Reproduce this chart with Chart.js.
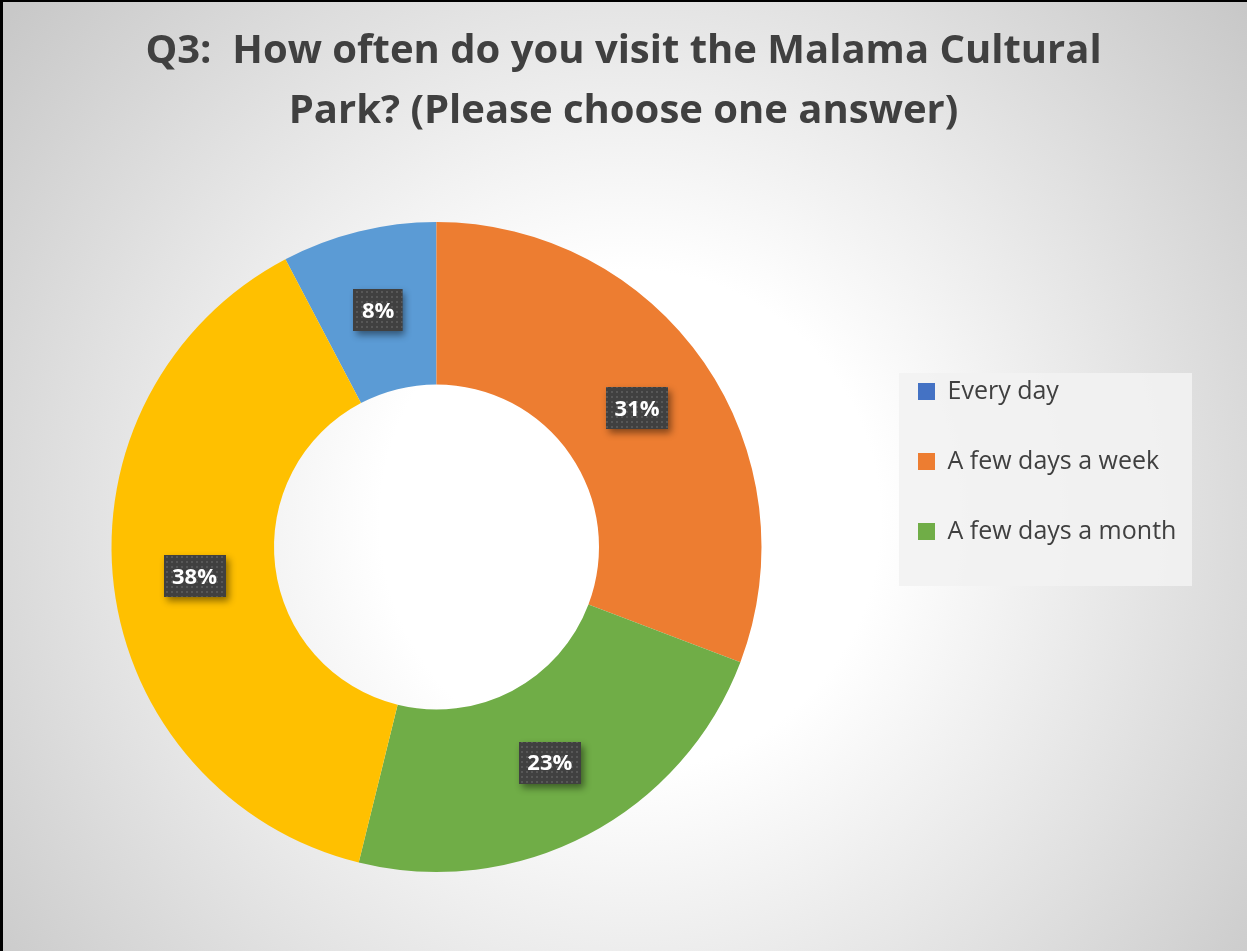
<!DOCTYPE html>
<html>
<head>
<meta charset="utf-8">
<script src="https://cdn.jsdelivr.net/npm/chart.js@4.4.1/dist/chart.umd.min.js"></script>
<style>
  html, body { margin: 0; padding: 0; }
  body { width: 1247px; height: 951px; overflow: hidden; }
  #wrap {
    position: relative;
    width: 1247px;
    height: 951px;
    background: radial-gradient(circle at 630px 520px, #ffffff 0px, #ffffff 250px, #c8c8c8 800px);
    box-shadow: inset 3px 2px 0 #000;
  }
  #myChart { position: absolute; left: 0; top: 0; }
</style>
</head>
<body>
<div id="wrap"><canvas id="myChart" width="1247" height="951"></canvas></div>
<script>
const titleLines = ['Q3:  How often do you visit the Malama Cultural', 'Park? (Please choose one answer)'];
const categories = ['Every day', 'A few days a week', 'A few days a month', 'A few times a year'];
const shares = [7.69, 30.77, 23.08, 38.46];
const sliceColors = ['#5B9BD5', '#ED7D31', '#70AD47', '#FFC000'];
const legendColors = ['#4472C4', '#ED7D31', '#70AD47', '#FFC000'];
const legendCount = 3;

// dotted fill for the label boxes
const dots = document.createElement('canvas')
dots.width = 5
dots.height = 5
const dctx = dots.getContext('2d')
dctx.fillStyle = '#404040'
dctx.fillRect(0, 0, 5, 5)
dctx.fillStyle = '#575757'
dctx.fillRect(1, 1, 2, 2)

const labelBoxes = {
    id: 'labelBoxes',
    afterDatasetsDraw(chart) {
        const ctx = chart.ctx
        const meta = chart.getDatasetMeta(0)
        const total = shares.reduce((a, b) => a + b, 0)
        const pattern = ctx.createPattern(dots, 'repeat')
        ctx.save()
        ctx.font = 'bold 22px "Open Sans"'
        ctx.textAlign = 'center'
        ctx.textBaseline = 'middle'
        meta.data.forEach((arc, i) => {
            const p = arc.tooltipPosition()
            const txt = Math.round(shares[i] / total * 100) + '%'
            const w = ctx.measureText(txt).width + 17
            const h = 42
            const x = Math.round(p.x - w / 2), y = Math.round(p.y - h / 2)
            ctx.save()
            ctx.shadowColor = 'rgba(0,0,0,0.45)'
            ctx.shadowBlur = 7
            ctx.shadowOffsetX = 3
            ctx.shadowOffsetY = 4
            ctx.fillStyle = '#404040'
            ctx.fillRect(x, y, w, h)
            ctx.restore()
            ctx.fillStyle = pattern
            ctx.fillRect(x, y, w, h)
            ctx.fillStyle = '#ffffff'
            ctx.fillText(txt, p.x, p.y + 1)
        })
        ctx.restore()
    }
}

const legendPanel = {
    id: 'legendPanel',
    beforeDraw(chart) {
        const boxes = chart.legend.legendHitBoxes
        if (!boxes || !boxes.length) return
        const ctx = chart.ctx
        ctx.save()
        ctx.fillStyle = 'rgba(242,242,242,0.9)'
        ctx.fillRect(boxes[0].left - 19, boxes[0].top - 6, 293, 213)
        ctx.restore()
    }
}

const data = {
    labels: categories,
    datasets: [{
        data: shares,
        backgroundColor: sliceColors,
        borderWidth: 0,
        hoverOffset: 0
    }]
}

const config = {
    type: 'doughnut',
    data: data,
    options: {
        responsive: false,
        animation: false,
        cutout: '50%',
        rotation: -27.7,
        layout: { padding: { top: 0, left: 0, right: 0, bottom: 79 } },
        plugins: {
            tooltip: { enabled: false },
            title: {
                display: true,
                text: titleLines,
                color: '#404040',
                font: { family: '"Open Sans"', size: 40, weight: 'bold', lineHeight: 1.5 },
                padding: { top: 22, bottom: 80 }
            },
            legend: {
                position: 'right',
                align: 'start',
                maxWidth: 374,
                title: { display: true, text: '', font: { size: 10 }, padding: { top: 322, bottom: 0 } },
                labels: {
                    boxWidth: 17,
                    boxHeight: 17,
                    padding: 45,
                    color: '#404040',
                    font: { family: '"Open Sans"', size: 25 },
                    filter: (item) => item.index < legendCount,
                    // trailing em spaces keep the legend column as wide as the reference's right margin
                    generateLabels: (chart) => Chart.overrides.doughnut.plugins.legend.labels.generateLabels(chart)
                        .map((item, i) => Object.assign(item, {
                            text: item.text + '\u2003\u2003\u2003\u2003',
                            fillStyle: legendColors[i], strokeStyle: legendColors[i], lineWidth: 0
                        }))
                }
            }
        }
    },
    plugins: [legendPanel, labelBoxes]
}

const myChart = new Chart(document.querySelector('#myChart'), config)
</script>
</body>
</html>
